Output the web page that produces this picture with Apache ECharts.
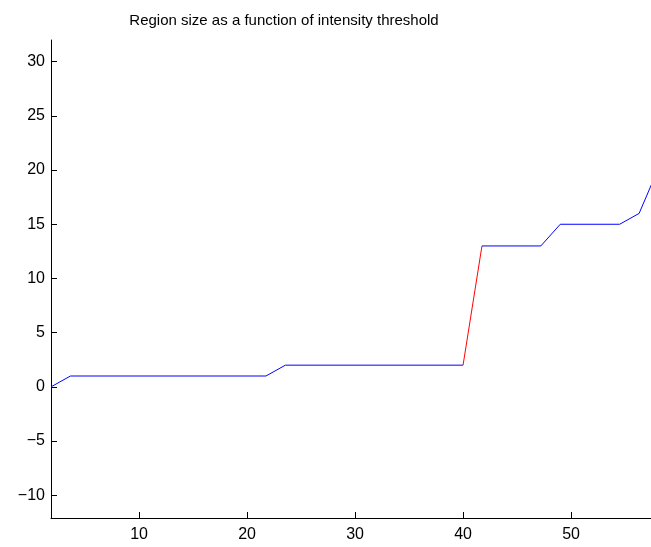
<!DOCTYPE html>
<html>
<head>
<meta charset="utf-8">
<script src="https://cdn.jsdelivr.net/npm/echarts@6/dist/echarts.min.js"></script>
<style>
  html, body { margin: 0; padding: 0; background: #fff; }
  #main { width: 651px; height: 547px; }
</style>
</head>
<body>
<div id="main"></div>
<script>
// thresholds (x) and region size (y), vertices
var thresholds = [1.85, 3.65, 21.75, 23.55, 40.0, 41.75, 47.2, 49.0, 54.5, 56.3, 58.1]
var regionSize = [0, 1, 1, 2, 2, 13, 13, 15, 15, 16, 20.2]
// the jump (between these two vertices) is drawn in red
var jumpStart = 4
var xTicks = [10, 20, 30, 40, 50]
var yTicks = [-10, -5, 0, 5, 10, 15, 20, 25, 30]

var chartDom = document.getElementById('main')
var myChart = echarts.init(chartDom)

function pairs (xs, ys, from, to) {
  var out = []
  for (var i = from; i < to; i++) out.push([xs[i], ys[i]])
  return out
}
function minus (v) {
  return String(v).replace('-', '\u2212')
}

var FONT = 'Liberation Sans, Arial, Helvetica, sans-serif'
var n = thresholds.length

var option = {
  animation: false,
  title: {
    text: 'Region size as a function of intensity threshold',
    left: 279,
    top: 8,
    textAlign: 'center',
    textStyle: { fontFamily: FONT, fontSize: 15, fontWeight: 'normal', color: '#000' }
  },
  grid: { left: 51, right: 0, top: 40, bottom: 29 },
  xAxis: {
    type: 'value',
    min: 1.85,
    max: 57.4,
    splitLine: { show: false },
    axisLine: { show: true, onZero: false, lineStyle: { color: '#000', width: 1 } },
    axisTick: { show: true, inside: true, length: 6, customValues: xTicks, lineStyle: { color: '#000' } },
    axisLabel: { customValues: xTicks, margin: 9, color: '#000', fontFamily: FONT, fontSize: 16 }
  },
  yAxis: {
    type: 'value',
    min: -12.1,
    max: 32,
    splitLine: { show: false },
    axisLine: { show: true, onZero: false, lineStyle: { color: '#000', width: 1 } },
    axisTick: { show: true, inside: true, length: 6, customValues: yTicks, lineStyle: { color: '#000' } },
    axisLabel: {
      customValues: yTicks,
      margin: 6,
      color: '#000',
      fontFamily: FONT,
      fontSize: 16,
      formatter: minus
    }
  },
  series: [
    {
      type: 'line',
      data: pairs(thresholds, regionSize, 0, jumpStart + 1),
      symbol: 'none',
      lineStyle: { color: '#0000ff', width: 1 }
    },
    {
      type: 'line',
      data: pairs(thresholds, regionSize, jumpStart, jumpStart + 2),
      symbol: 'none',
      lineStyle: { color: '#ff0000', width: 1 }
    },
    {
      type: 'line',
      data: pairs(thresholds, regionSize, jumpStart + 1, n),
      symbol: 'none',
      clip: true,
      lineStyle: { color: '#0000ff', width: 1 }
    }
  ]
}

myChart.setOption(option)
</script>
</body>
</html>
